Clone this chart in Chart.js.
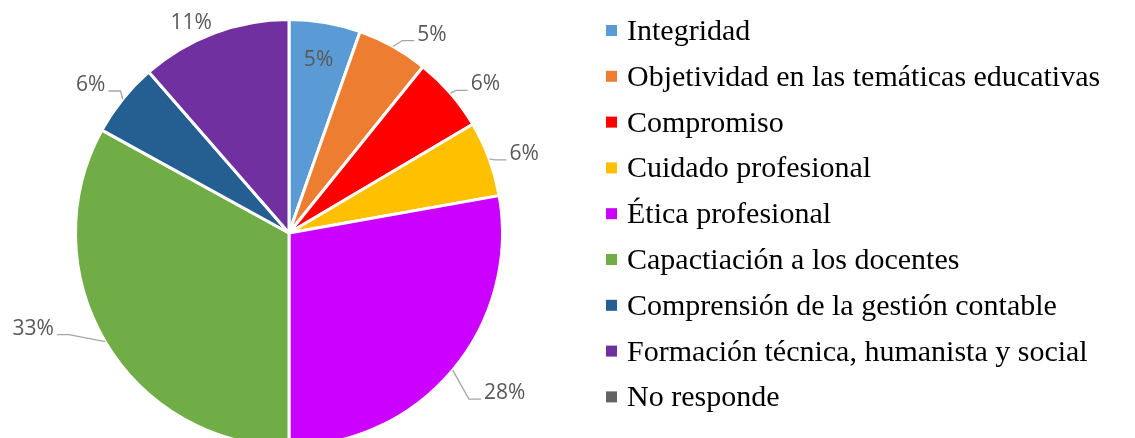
<!DOCTYPE html>
<html>
<head>
<meta charset="utf-8">
<script src="https://cdn.jsdelivr.net/npm/chart.js@4.4.1/dist/chart.umd.min.js"></script>
<style>
  html, body { margin: 0; padding: 0; background: #fff; overflow: hidden; }
</style>
</head>
<body>
<canvas id="myChart" width="1135" height="450" style="width:1135px;height:450px;display:block"></canvas>
<script>
const categories = [
  'Integridad',
  'Objetividad en las temáticas educativas',
  'Compromiso',
  'Cuidado profesional',
  'Ética profesional',
  'Capactiación a los docentes',
  'Comprensión de la gestión contable',
  'Formación técnica, humanista y social',
  'No responde'
];
const values = [5.4, 5.4, 5.7, 5.7, 27.8, 33.0, 5.6, 11.4, 0];
const colors = ['#5B9BD5', '#ED7D31', '#FF0000', '#FFC000', '#CC00FF', '#70AD47', '#255E91', '#7030A0', '#636363'];

// where each percentage label goes: inside, outside with leader, outside without leader
const labelMode = ['in', 'out', 'out', 'out', 'out', 'out', 'out', 'free', 'none'];
const labelNudge = [[0, 0], [39, -12], [35, -9], [35, -5], [52, 23], [-72, -13], [-32, -14], [-23, -10], [0, 0]];

const ctx = document.getElementById('myChart');

const pieLabels = {
  id: 'pieLabels',
  afterDatasetsDraw(chart) {
    const c = chart.ctx;
    const arcs = chart.getDatasetMeta(0).data;
    const total = values.reduce((a, b) => a + b, 0);
    c.save();
    c.font = '21px "Open Sans"';
    c.fillStyle = '#595959';
    c.textAlign = 'center';
    c.textBaseline = 'middle';
    c.strokeStyle = '#A6A6A6';
    c.lineWidth = 1.3;
    arcs.forEach((arc, i) => {
      if (!values[i] || labelMode[i] === 'none') return;
      const text = Math.round(values[i] / total * 100) + '%';
      const p = arc.getProps(['x', 'y', 'startAngle', 'endAngle', 'outerRadius'], true);
      const mid = (p.startAngle + p.endAngle) / 2;
      if (labelMode[i] === 'in') {
        c.fillText(text, p.x + Math.cos(mid) * p.outerRadius * 0.82, p.y + Math.sin(mid) * p.outerRadius * 0.82);
        return;
      }
      const ex = p.x + Math.cos(mid) * p.outerRadius;
      const ey = p.y + Math.sin(mid) * p.outerRadius;
      const tx = ex + labelNudge[i][0];
      const ty = ey + labelNudge[i][1];
      if (labelMode[i] === 'out') {
        const side = labelNudge[i][0] > 0 ? 1 : -1;
        const w = c.measureText(text).width;
        const hx = tx - side * (w / 2 + 3);
        const hy = ty + 6;
        const bx = hx - side * 12;
        c.beginPath();
        c.moveTo(ex, ey);
        c.lineTo(bx, hy);
        c.lineTo(hx, hy);
        c.stroke();
      }
      c.fillText(text, tx, ty);
    });
    c.restore();
  }
};

const sideLegend = {
  id: 'sideLegend',
  afterDraw(chart) {
    const c = chart.ctx;
    c.save();
    c.font = '30px "Liberation Serif"';
    c.textAlign = 'left';
    c.textBaseline = 'alphabetic';
    categories.forEach((name, i) => {
      const cy = 30 + i * 45.8;
      c.fillStyle = colors[i];
      c.fillRect(606, cy - 5, 11, 11);
      c.fillStyle = '#000000';
      c.fillText(name, 627, cy + 10);
    });
    c.restore();
  }
};

new Chart(ctx, {
  type: 'pie',
  data: {
    labels: categories,
    datasets: [{
      data: values,
      backgroundColor: colors,
      borderColor: '#FFFFFF',
      borderWidth: 3
    }]
  },
  options: {
    responsive: false,
    animation: false,
    events: [],
    layout: { padding: { top: 18, bottom: 2, left: 0, right: 557 } },
    plugins: {
      legend: { display: false },
      tooltip: { enabled: false }
    }
  },
  plugins: [pieLabels, sideLegend]
});
</script>
</body>
</html>
